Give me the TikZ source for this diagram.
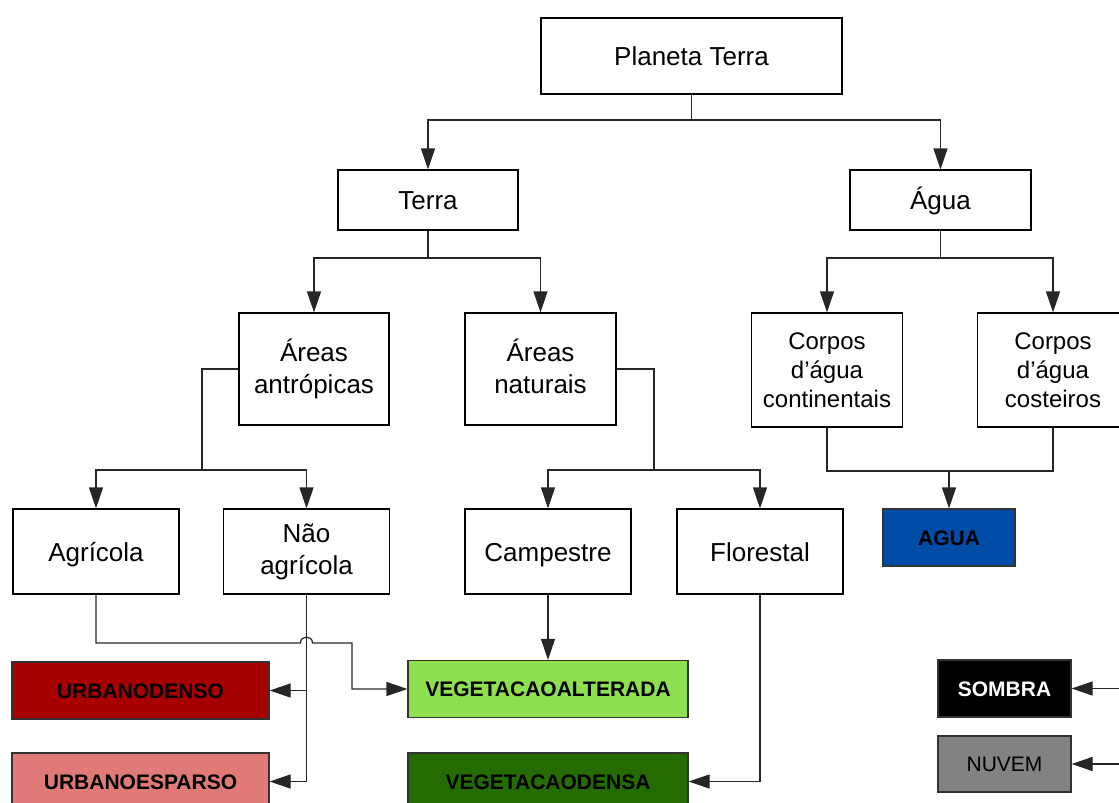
\documentclass[tikz,border=0pt]{standalone}
\usepackage{fontspec}
\setmainfont{Liberation Sans}
\usetikzlibrary{arrows.meta}
\definecolor{udenso}{RGB}{168,0,0}
\definecolor{uesparso}{RGB}{224,122,118}
\definecolor{valt}{RGB}{143,224,80}
\definecolor{vdensa}{RGB}{36,107,0}
\definecolor{aguac}{RGB}{0,77,168}
\definecolor{nuvemc}{RGB}{130,130,130}
\tikzset{
  box/.style={draw=black, line width=1.2pt, fill=white, align=center, inner sep=0pt,
    font=\fontsize{26}{32}\selectfont},
  oneline/.style={box, text height=19pt, text depth=0pt},
  smallbox/.style={box, font=\fontsize{24}{29}\selectfont},
  classbox/.style={draw=black!80, line width=1.2pt, inner sep=0pt,
    font=\fontsize{21}{25}\selectfont\bfseries, text height=15pt, text depth=0pt},
  link/.style={draw=black!85, line width=1.2pt},
  arr/.style={link, -{Triangle[length=21pt,width=14pt]}},
}
\begin{document}
\begin{tikzpicture}[x=1pt,y=-1pt]
\useasboundingbox (0,0) rectangle (1119,803);

% hierarchy boxes
\node[oneline, minimum width=301pt, minimum height=76pt] (pt) at (691.5,56) {Planeta Terra};
\node[oneline, minimum width=180pt, minimum height=60pt] (terra) at (428,200) {Terra};
\node[oneline, minimum width=181pt, minimum height=60pt] (agua) at (940.5,200) {Água};
\node[box, minimum width=150pt, minimum height=112pt] (aa) at (314,369) {Áreas\\antrópicas};
\node[box, minimum width=151pt, minimum height=112pt] (an) at (540.5,369) {Áreas\\naturais\vphantom{p}};
\node[smallbox, minimum width=151pt, minimum height=114pt] (cc) at (827,370) {Corpos\\d’água\\continentais};
\node[smallbox, minimum width=151pt, minimum height=114pt] (cx) at (1053,370) {Corpos\\d’água\\costeiros};
\node[oneline, minimum width=166pt, minimum height=85pt] (agri) at (96,551.5) {Agrícola};
\node[box, minimum width=166pt, minimum height=85pt] (nagri) at (306.5,551.5) {Não\\agrícola};
\node[oneline, minimum width=166pt, minimum height=85pt] (camp) at (548,551.5) {Campestre};
\node[oneline, minimum width=166pt, minimum height=85pt] (flor) at (760,551.5) {Florestal};

% class boxes
\node[classbox, fill=aguac, minimum width=132pt, minimum height=57pt] (cagua) at (949,537.5) {AGUA};
\node[classbox, fill=udenso, minimum width=257pt, minimum height=57pt] (ud) at (140.5,690.5) {URBANODENSO};
\node[classbox, fill=uesparso, minimum width=257pt, minimum height=57pt] (ue) at (140.5,781.5) {URBANOESPARSO};
\node[classbox, fill=valt, minimum width=280pt, minimum height=57pt] (va) at (548,689) {VEGETACAOALTERADA};
\node[classbox, fill=vdensa, minimum width=280pt, minimum height=57pt] (vd) at (548,781.5) {VEGETACAODENSA};
\node[classbox, fill=black, text=white, minimum width=133pt, minimum height=57pt] (som) at (1004.5,688.5) {SOMBRA};
\node[classbox, fill=nuvemc, font=\fontsize{21}{25}\selectfont, minimum width=133pt, minimum height=56pt] (nuv) at (1004.5,764) {NUVEM};

% junction points
\coordinate (j1) at (691.5,120);
\coordinate (j2) at (428,258);
\coordinate (j3) at (940.5,258);
\coordinate (j4) at (202,470);
\coordinate (j5) at (654,470);
\coordinate (j6) at (949,471);
\coordinate (s0) at (1119,688.5);
\coordinate (n0) at (1119,764);

% top levels
\draw[link] (pt.south) -- (j1);
\draw[arr] (j1) -| (terra.north);
\draw[arr] (j1) -| (agua.north);
\draw[link] (terra.south) -- (j2);
\draw[arr] (j2) -| (aa.north);
\draw[arr] (j2) -| (an.north);
\draw[link] (agua.south) -- (j3);
\draw[arr] (j3) -| (cc.north);
\draw[arr] (j3) -| (cx.north);

% land cover branches
\draw[link] (aa.west) -| (j4);
\draw[arr] (j4) -| (agri.north);
\draw[arr] (j4) -| (nagri.north);
\draw[link] (an.east) -| (j5);
\draw[arr] (j5) -| (camp.north);
\draw[arr] (j5) -| (flor.north);

% water bodies merge into AGUA
\draw[link] (cc.south) |- (j6) -| (cx.south);
\draw[arr] (j6) -- (cagua.north);

% classes
\draw[arr] (nagri.south) |- (ud.east);
\draw[arr] (nagri.south) |- (ue.east);
\draw[arr] (agri.south) -- (96,643) -- (300.5,643)
  .. controls (300.5,635) and (312.5,635) .. (312.5,643)
  -- (352,643) |- (va.west);
\draw[arr] (camp.south) -- (va.north);
\draw[arr] (flor.south) |- (vd.east);
\draw[arr] (s0) -- (som.east);
\draw[arr] (n0) -- (nuv.east);
\end{tikzpicture}
\end{document}
